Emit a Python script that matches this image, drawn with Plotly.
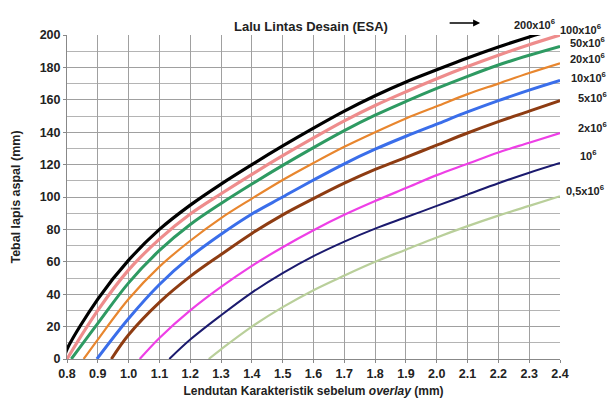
import plotly.graph_objects as go

# Lendutan (mm) sample positions and thickness (mm) per traffic curve
x_black = [0.79, 0.8, 0.9, 1.0, 1.1, 1.2, 1.3, 1.4, 1.5, 1.6, 1.7, 1.8, 1.9, 2.0, 2.1, 2.2, 2.3, 2.35]
y_black = [0, 6, 37, 61, 80, 95, 108, 120, 131.5, 142.5, 153, 162.5, 171, 178.5, 185.8, 192.6, 198.8, 201.7]

x_pink = [0.8, 0.9, 1.0, 1.1, 1.2, 1.3, 1.4, 1.5, 1.6, 1.7, 1.8, 1.9, 2.0, 2.1, 2.2, 2.3, 2.4]
y_pink = [0, 30, 55, 74, 89.5, 102, 114, 125.5, 136.5, 147, 156.5, 165, 173, 180.5, 187.5, 194, 200]

x_green = [0.814, 0.9, 1.0, 1.1, 1.2, 1.3, 1.4, 1.5, 1.6, 1.7, 1.8, 1.9, 2.0, 2.1, 2.2, 2.3, 2.4]
y_green = [0, 22, 47, 67, 83, 96, 108, 119.5, 130.5, 141, 150.5, 159, 167, 174.5, 181.5, 187.5, 193]

x_orange = [0.854, 0.9, 1.0, 1.1, 1.2, 1.3, 1.4, 1.5, 1.6, 1.7, 1.8, 1.9, 2.0, 2.1, 2.2, 2.3, 2.4]
y_orange = [0, 12, 37, 57, 73, 87, 99, 110.5, 121, 131, 140, 148.5, 156, 163.5, 170, 176.5, 182.5]

x_blue = [0.897, 1.0, 1.1, 1.2, 1.3, 1.4, 1.5, 1.6, 1.7, 1.8, 1.9, 2.0, 2.1, 2.2, 2.3, 2.4]
y_blue = [0, 25, 46, 63, 77, 89.5, 100, 110.5, 120.5, 129.5, 137.5, 145, 152.5, 159.5, 166, 172]

x_brown = [0.944, 1.0, 1.1, 1.2, 1.3, 1.4, 1.5, 1.6, 1.7, 1.8, 1.9, 2.0, 2.1, 2.2, 2.3, 2.4]
y_brown = [0, 15, 35, 51, 64.5, 77.5, 89, 99, 108.5, 117, 124.5, 132, 139.5, 146.5, 153, 159.5]

x_magenta = [1.036, 1.1, 1.2, 1.3, 1.4, 1.5, 1.6, 1.7, 1.8, 1.9, 2.0, 2.1, 2.2, 2.3, 2.4]
y_magenta = [0, 13, 30, 44.5, 57.5, 69, 79.5, 89, 97.5, 105.5, 113.5, 120.5, 127.5, 133.5, 139.5]

x_navy = [1.132, 1.2, 1.3, 1.4, 1.5, 1.6, 1.7, 1.8, 1.9, 2.0, 2.1, 2.2, 2.3, 2.4]
y_navy = [0, 12, 27, 41, 53, 63.5, 72.5, 80.5, 87.5, 94.5, 101.5, 108.5, 115, 121]

x_lgreen = [1.26, 1.3, 1.4, 1.5, 1.6, 1.7, 1.8, 1.9, 2.0, 2.1, 2.2, 2.3, 2.4]
y_lgreen = [0, 6, 20, 32, 42.5, 51.5, 60, 67.5, 75, 82, 88.5, 94.5, 100.5]

series_labels = ["200x10<sup>6</sup>", "100x10<sup>6</sup>", "50x10<sup>6</sup>", "20x10<sup>6</sup>",
                 "10x10<sup>6</sup>", "5x10<sup>6</sup>", "2x10<sup>6</sup>", "10<sup>6</sup>",
                 "0,5x10<sup>6</sup>"]

series = [
    (x_black, y_black, "#000000", 3.2),
    (x_pink, y_pink, "#EE8C8C", 3.2),
    (x_green, y_green, "#2E9A62", 3.0),
    (x_orange, y_orange, "#E8862E", 2.2),
    (x_blue, y_blue, "#3A6EEA", 3.0),
    (x_brown, y_brown, "#8E3C12", 3.0),
    (x_magenta, y_magenta, "#EE3FE6", 2.2),
    (x_navy, y_navy, "#1B1A6E", 2.0),
    (x_lgreen, y_lgreen, "#B9CF9A", 2.2),
]

fig = go.Figure()
for (xs, ys, col, w), name in zip(series, series_labels):
    fig.add_trace(go.Scatter(x=xs, y=ys, mode="lines", name=name,
                             line=dict(color=col, width=w, shape="spline", smoothing=1.0),
                             showlegend=False, hoverinfo="skip"))

font_family = "Liberation Sans, Arial, sans-serif"

# curve labels at right (paper positions)
label_pos = [
    (0.949, 1.034, "center"),
    (1.041, 1.019, "center"),
    (1.055, 0.978, "center"),
    (1.055, 0.929, "center"),
    (1.057, 0.870, "center"),
    (1.065, 0.809, "center"),
    (1.065, 0.716, "center"),
    (1.057, 0.630, "center"),
    (1.093, 0.522, "right"),
]
for (lx, ly, anc), txt in zip(label_pos, series_labels):
    fig.add_annotation(x=lx, y=ly, xref="paper", yref="paper", text=txt, showarrow=False,
                       xanchor=anc, yanchor="middle",
                       font=dict(family=font_family, size=11, color="#222222", weight="bold"))

fig.add_annotation(x=0.495, y=1.056, xref="paper", yref="paper",
                   text="Lalu Lintas Desain (ESA)", showarrow=False,
                   font=dict(family=font_family, size=13, color="#222222", weight="bold"))
fig.add_annotation(x=0.838, y=1.037, xref="paper", yref="paper",
                   ax=-32, ay=0, axref="pixel", ayref="pixel",
                   text="", showarrow=True, arrowhead=2,
                   arrowsize=1, arrowwidth=1.4, arrowcolor="#000000")

fig.update_layout(
    width=607, height=401,
    margin=dict(l=67, r=47, t=35, b=42),
    paper_bgcolor="white", plot_bgcolor="white",
    font=dict(family=font_family, color="#222222"),
)
fig.update_xaxes(range=[0.8, 2.4], dtick=0.1, tick0=0.8, tickformat=".1f",
                 automargin=False,
                 showgrid=True, gridcolor="#a0a0a0", gridwidth=1,
                 showline=True, linecolor="#888888", linewidth=1,
                 ticks="outside", ticklen=3, tickcolor="#888888",
                 tickfont=dict(family=font_family, size=12.5, color="#222222", weight="bold"),
                 zeroline=False,
                 title=dict(text="Lendutan Karakteristik sebelum <i>overlay</i> (mm)",
                            font=dict(family=font_family, size=12, color="#222222", weight="bold"),
                            standoff=6))
fig.update_yaxes(range=[0, 200], dtick=20, tick0=0,
                 automargin=False,
                 showgrid=True, gridcolor="#a0a0a0", gridwidth=1,
                 minor=dict(dtick=10, showgrid=True, gridcolor="#b4b4b4", gridwidth=1),
                 showline=True, linecolor="#888888", linewidth=1,
                 ticks="outside", ticklen=3, tickcolor="#888888",
                 tickfont=dict(family=font_family, size=12.5, color="#222222", weight="bold"),
                 zeroline=False,
                 title=dict(text="Tebal lapis aspal (mm)",
                            font=dict(family=font_family, size=12.5, color="#222222", weight="bold"),
                            standoff=16))

fig.write_html("out.html", config={"displayModeBar": False},
               post_script="document.body.style.margin='0';")
